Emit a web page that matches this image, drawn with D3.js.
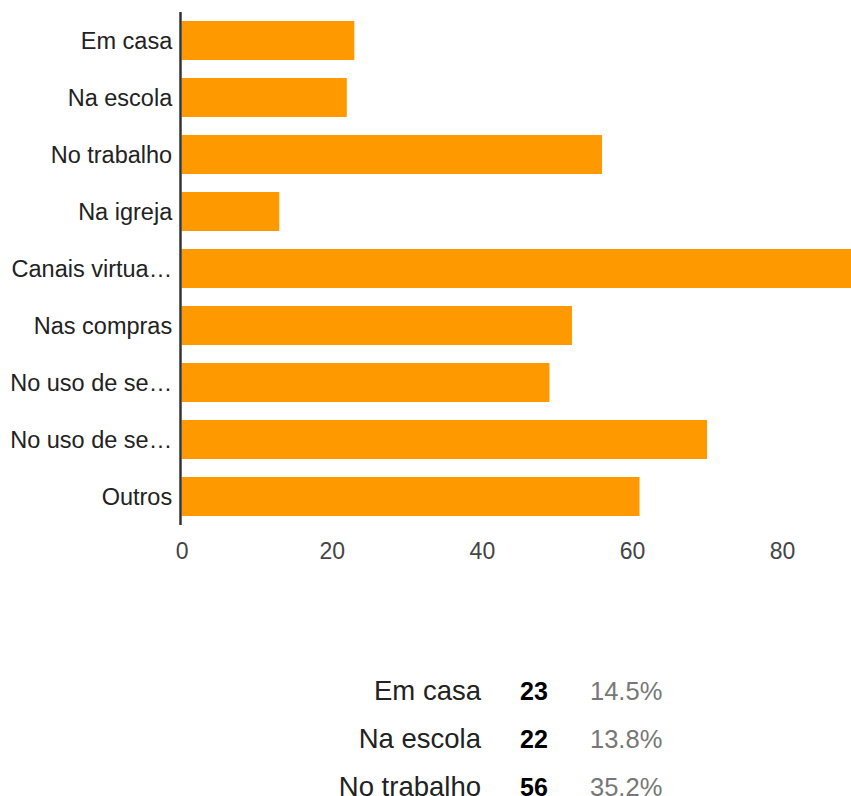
<!DOCTYPE html>
<html>
<head>
<meta charset="utf-8">
<script src="https://cdn.jsdelivr.net/npm/d3@7"></script>
<style>
  html, body { margin: 0; padding: 0; background: #fff; }
  svg { display: block; font-family: "Liberation Sans", Arial, sans-serif; }
</style>
</head>
<body>
<svg id="chart" width="851" height="796"></svg>
<script>
// Answers as shown on the chart axis
const categories = [
  "Em casa", "Na escola", "No trabalho", "Na igreja", "Canais virtua\u2026",
  "Nas compras", "No uso de se\u2026", "No uso de se\u2026", "Outros"
];
const counts = [23, 22, 56, 13, 90, 52, 49, 70, 61];
const tickValues = [0, 20, 40, 60, 80];

// Summary table rows
const tableLabels = ["Em casa", "Na escola", "No trabalho"];
const tableCounts = [23, 22, 56];
const tablePercents = ["14.5%", "13.8%", "35.2%"];

const svg = d3.select("#chart");

const x = d3.scaleLinear().domain([0, 100]).range([181.7, 932.2]);
const idx = d3.range(categories.length);
const y = d3.scaleBand().domain(idx).range([12, 525])
  .paddingInner(0.316).paddingOuter(0.158);

// Bars
svg.append("g").selectAll("rect")
  .data(idx)
  .join("rect")
  .attr("x", x(0))
  .attr("y", i => y(i))
  .attr("width", i => x(counts[i]) - x(0))
  .attr("height", y.bandwidth())
  .attr("fill", "#ff9900");

// Category labels
const yAxis = d3.axisLeft(y).tickSize(0).tickPadding(9.5).tickFormat(i => categories[i]);
const gy = svg.append("g").attr("transform", `translate(${x(0)},0)`).call(yAxis);
gy.select(".domain").remove();
gy.selectAll("text")
  .attr("font-size", 23.5)
  .attr("font-family", "'Liberation Sans', Arial, sans-serif")
  .attr("fill", "#222")
  .attr("dy", "0.36em");

// Baseline axis line
svg.append("line")
  .attr("x1", x(0) - 1.2).attr("x2", x(0) - 1.2)
  .attr("y1", 12).attr("y2", 525)
  .attr("stroke", "#333").attr("stroke-width", 2.5);

// Value axis ticks
const xAxis = d3.axisBottom(x).tickValues(tickValues).tickSize(0).tickPadding(0);
const gx = svg.append("g").attr("transform", "translate(0,559)").call(xAxis);
gx.select(".domain").remove();
gx.selectAll("text")
  .attr("font-size", 23)
  .attr("font-family", "'Liberation Sans', Arial, sans-serif")
  .attr("fill", "#444")
  .attr("dy", 0)
  .attr("y", 0);

// Summary table
const rowY = d3.scalePoint().domain(d3.range(tableLabels.length)).range([699.5, 795.5]);
const rows = svg.append("g").selectAll("g")
  .data(d3.range(tableLabels.length))
  .join("g")
  .attr("transform", i => `translate(0,${rowY(i)})`);

rows.append("text")
  .attr("x", 481).attr("text-anchor", "end")
  .attr("font-size", 27.5).attr("fill", "#222")
  .text(i => tableLabels[i]);

rows.append("text")
  .attr("x", 520)
  .attr("font-size", 25).attr("font-weight", "bold").attr("fill", "#000")
  .text(i => tableCounts[i]);

rows.append("text")
  .attr("x", 590)
  .attr("font-size", 25.5).attr("fill", "#777")
  .text(i => tablePercents[i]);
</script>
</body>
</html>
